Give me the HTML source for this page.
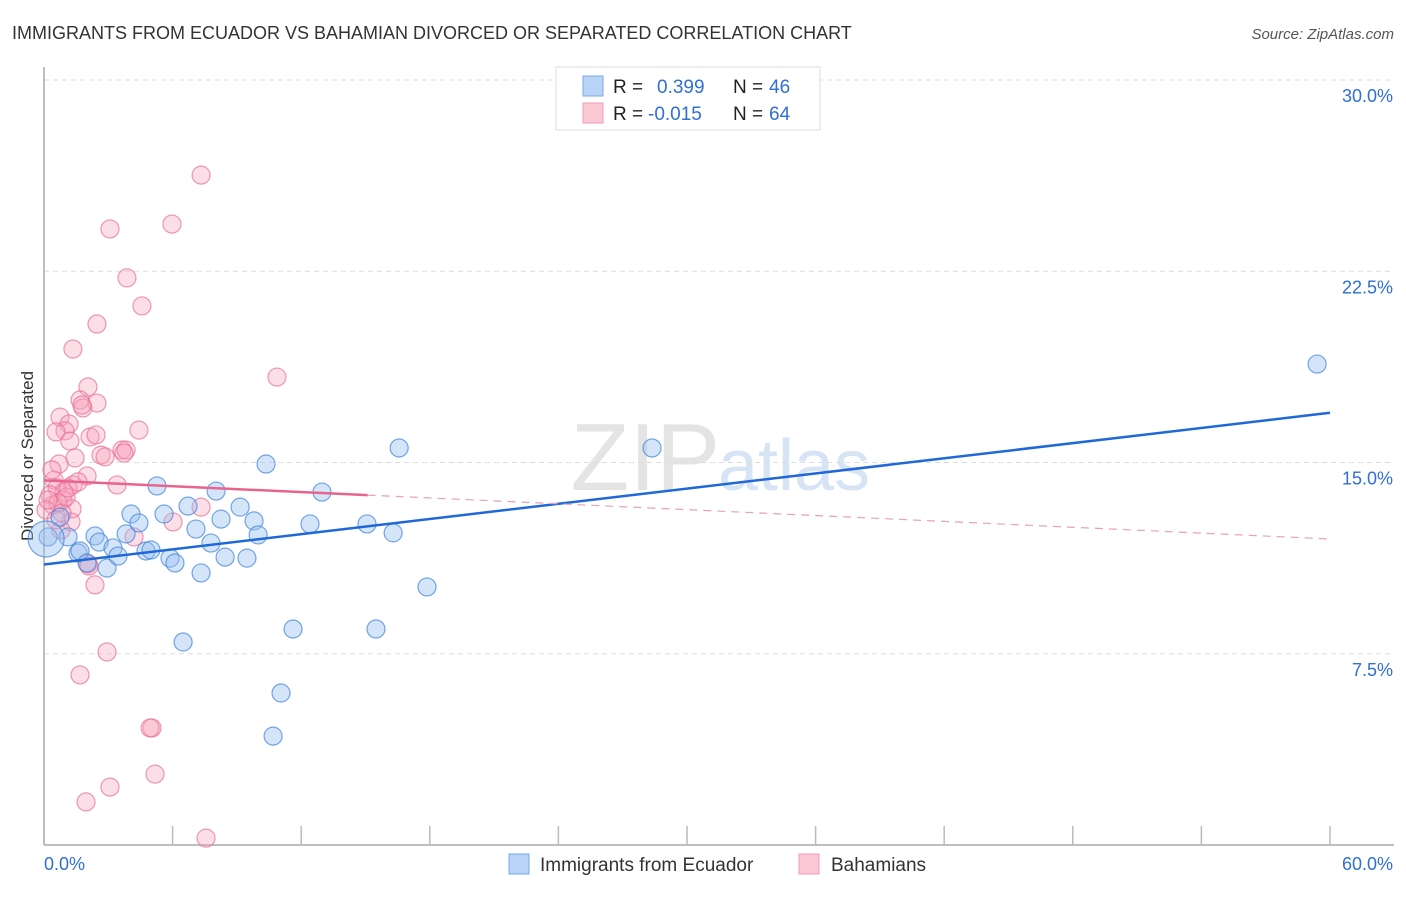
<!DOCTYPE html>
<html><head><meta charset="utf-8"><style>
body{margin:0;background:#fff;font-family:"Liberation Sans",sans-serif;}
svg text{font-family:"Liberation Sans",sans-serif;}
</style></head><body>
<svg width="1406" height="892" id="c">
<text x="12" y="39" font-size="18" fill="#333">IMMIGRANTS FROM ECUADOR VS BAHAMIAN DIVORCED OR SEPARATED CORRELATION CHART</text>
<text x="1394" y="39" font-size="15" fill="#555" text-anchor="end" font-style="italic">Source: ZipAtlas.com</text>
<text x="0" y="0" transform="translate(33,456) rotate(-90)" font-size="17" fill="#333" text-anchor="middle">Divorced or Separated</text>
<text x="720" y="490" font-size="96" fill="#e4e4e4" text-anchor="end" font-family="Liberation Serif">ZIP</text>
<text x="718" y="490" font-size="72" fill="#d6e4f5">atlas</text>
<g id="grid"></g><g id="axes"></g><g id="pts"></g><g id="trend"></g>
<g>
<rect x="556" y="67" width="264" height="63" fill="#fff" stroke="#ddd"/>
<rect x="583" y="76" width="20" height="20" fill="#b8d3f5" stroke="#7aa8e6"/>
<rect x="583" y="103" width="20" height="20" fill="#fbc8d6" stroke="#f09ab4"/>
<text x="613" y="93" font-size="19" fill="#222">R = <tspan fill="#2f6fd6" x="657">0.399</tspan><tspan fill="#222" x="733">N =</tspan><tspan fill="#2f6fd6" x="769">46</tspan></text>
<text x="613" y="120" font-size="19" fill="#222">R = <tspan fill="#2f6fd6" x="648">-0.015</tspan><tspan fill="#222" x="733">N =</tspan><tspan fill="#2f6fd6" x="769">64</tspan></text>
</g>
<g>
<rect x="509" y="854" width="20" height="20" fill="#b8d3f5" stroke="#7aa8e6"/>
<text x="540" y="871" font-size="19" fill="#333">Immigrants from Ecuador</text>
<rect x="799" y="854" width="20" height="20" fill="#fbc8d6" stroke="#f09ab4"/>
<text x="831" y="871" font-size="19" fill="#333">Bahamians</text>
</g>
</svg>
<script>
const blueX=[0.19,0.75,1.12,1.59,1.68,2.01,2.38,2.57,2.94,3.22,3.45,3.83,4.06,4.43,4.76,4.99,5.27,5.6,5.88,6.11,6.72,7.09,7.33,7.79,8.03,8.26,8.45,9.15,9.47,9.8,9.99,10.36,10.69,11.06,11.62,12.41,12.97,15.07,15.49,16.29,16.57,17.87,6.49,28.37,59.4,0.1];
const blueY=[12.08,12.86,12.08,11.45,11.53,11.06,12.12,11.88,10.86,11.65,11.33,12.2,12.98,12.63,11.53,11.57,14.08,12.98,11.25,11.06,13.29,12.39,10.67,11.84,13.88,12.78,11.29,13.25,11.25,12.71,12.16,14.94,4.27,5.96,8.47,12.59,13.84,12.59,8.47,12.24,15.57,10.12,7.96,15.57,18.86,12.0];
const pinkX=[7.33,3.08,5.97,3.87,4.57,2.47,1.35,10.87,2.05,1.68,2.47,1.82,0.75,1.17,0.98,0.56,2.15,1.21,4.43,3.64,2.66,2.85,3.83,1.45,0.7,2.01,0.47,3.41,1.35,0.61,0.93,0.28,0.89,1.31,0.42,0.65,1.26,2.05,2.38,4.2,6.02,7.33,0.84,2.94,1.68,5.04,4.95,5.18,3.08,1.96,7.56,0.37,1.03,0.09,0.79,2.1,1.77,1.12,3.73,0.19,0.56,1.59,2.43];
const pinkY=[26.27,24.16,24.35,22.24,21.14,20.43,19.45,18.35,17.96,17.45,17.33,17.14,16.78,16.51,16.24,16.2,16.0,15.84,16.27,15.49,15.29,15.22,15.49,15.18,14.94,14.47,14.31,14.12,14.12,14.0,13.84,13.73,13.53,13.18,13.33,13.41,12.67,11.02,10.2,12.08,12.67,13.25,13.02,7.57,6.67,4.59,4.59,2.78,2.27,1.69,0.27,14.71,13.65,13.14,12.35,10.94,17.25,14.0,15.37,13.53,12.75,14.24,16.08];
const yTicks=[7.5,15,22.5,30];
const yTickLabels=["7.5%","15.0%","22.5%","30.0%"];
const blueTrend=[11.0,16.95];
const pinkTrend=[14.3,12.0];
const pinkSolidEnd=15.1;
const NS="http://www.w3.org/2000/svg";
const X=v=>44+v*21.433, Y=v=>845-v*25.5;
function mk(p,t,a){const e=document.createElementNS(NS,t);for(const k in a)e.setAttribute(k,a[k]);document.getElementById(p).appendChild(e);return e;}
yTicks.forEach((t,i)=>{
 const l=mk('grid','line',{x1:44,x2:1394,y1:Y(t),y2:Y(t),stroke:'#ddd','stroke-dasharray':'5,4'});
 
 
 const tx=mk('grid','text',{x:1393,y:Y(t)+22,'font-size':18,fill:'#2f6fd6','text-anchor':'end'});
 tx.textContent=yTickLabels[i];
 
 
});
let a=mk('axes','line',{x1:44,x2:44,y1:67,y2:845,stroke:'#aaa','stroke-width':1.5});


a=mk('axes','line',{x1:44,x2:1394,y1:845,y2:845,stroke:'#aaa','stroke-width':1.5});


for(let i=1;i<=10;i++){const t=mk('axes','line',{x1:X(i*6),x2:X(i*6),y1:826,y2:845,stroke:'#bbb','stroke-width':1.5});
 
 }
let t=mk('axes','text',{x:44,y:870,'font-size':18,fill:'#2f6fd6'});t.textContent='0.0%';


t=mk('axes','text',{x:1393,y:870,'font-size':18,fill:'#2f6fd6','text-anchor':'end'});t.textContent='60.0%';


pinkX.forEach((x,i)=>{const c=mk('pts','circle',{cx:X(x),cy:Y(pinkY[i]),r:9,fill:'rgba(246,160,186,0.35)',stroke:'rgba(232,110,150,0.7)','stroke-width':1.2});
 
 });
blueX.forEach((x,i)=>{const c=mk('pts','circle',{cx:X(x),cy:Y(blueY[i]),r:i==blueX.length-1?18:9,fill:'rgba(150,190,240,0.4)',stroke:'rgba(60,130,220,0.7)','stroke-width':1.2});
 
 });
let l=mk('trend','line',{x1:X(0),y1:Y(blueTrend[0]),x2:X(60),y2:Y(blueTrend[1]),stroke:'#1f68d8','stroke-width':2.5});


const py=v=>pinkTrend[0]+(pinkTrend[1]-pinkTrend[0])*v/60;
l=mk('trend','line',{x1:X(0),y1:Y(pinkTrend[0]),x2:X(pinkSolidEnd),y2:Y(py(pinkSolidEnd)),stroke:'#e8648e','stroke-width':2.5});


l=mk('trend','line',{x1:X(pinkSolidEnd),y1:Y(py(pinkSolidEnd)),x2:X(60),y2:Y(pinkTrend[1]),stroke:'#eaa0b6','stroke-width':1.2,'stroke-dasharray':'8,6'});


</script>
</body></html>
